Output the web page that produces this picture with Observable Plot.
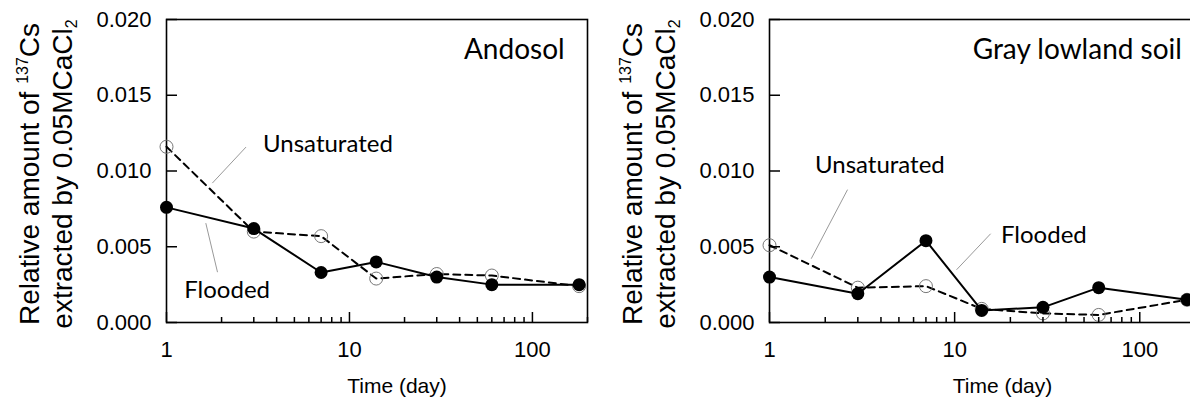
<!DOCTYPE html>
<html>
<head>
<meta charset="utf-8">
<script src="https://cdn.jsdelivr.net/npm/d3@7"></script>
<script src="https://cdn.jsdelivr.net/npm/@observablehq/plot@0.6"></script>
<style>
  html, body { margin: 0; padding: 0; background: #fff; overflow: hidden; }
  #wrap { display: flex; width: 1200px; }
  #wrap svg { flex: none; display: block; }
</style>
</head>
<body>
<div id="wrap"></div>
<script>
// ---- data ----
const days = [1, 3, 7, 14, 30, 60, 180];
const andosolFlooded = [0.0076, 0.0062, 0.0033, 0.0040, 0.0030, 0.0025, 0.0025];
const andosolUnsat   = [0.0116, 0.0060, 0.0057, 0.0029, 0.0032, 0.0031, 0.0024];
const grayFlooded    = [0.0030, 0.0019, 0.0054, 0.0008, 0.0010, 0.0023, 0.0015];
const grayUnsat      = [0.0051, 0.0023, 0.0024, 0.0009, 0.0006, 0.0005, 0.0015];
const majorX = [1, 10, 100];
const minorX = [2, 3, 4, 5, 6, 7, 8, 9, 20, 30, 40, 50, 60, 70, 80, 90, 200];
const yTicks = [0, 0.005, 0.010, 0.015, 0.020];
const xTitle = "Time (day)";
const seriesNames = ["Unsaturated", "Flooded"];
const panelTitles = ["Andosol", "Gray lowland soil"];

const sans = "'Liberation Sans', Arial, Helvetica, sans-serif";
const human = "Lato, 'Open Sans', sans-serif";

function panel(o) {
  const fl = days.map((d, i) => ({day: d, v: o.flooded[i]}));
  const un = days.map((d, i) => ({day: d, v: o.unsat[i]}));
  const svg = Plot.plot({
    width: o.width, height: 403,
    marginLeft: o.ml, marginRight: o.mr, marginTop: 19, marginBottom: 81,
    style: {fontFamily: sans, fontSize: "22px", color: "#000", background: "#fff", overflow: "visible"},
    x: {type: "log", domain: [1, 200], label: null},
    y: {domain: [0, 0.02], label: null},
    marks: [
      Plot.frame({stroke: "#000", strokeWidth: 1.6}),
      Plot.line(un, {x: "day", y: "v", stroke: "#000", strokeWidth: 2, strokeDasharray: "7,5"}),
      Plot.dot(un, {x: "day", y: "v", r: 6.5, stroke: "#777", strokeWidth: 1, fill: "none"}),
      Plot.line(fl, {x: "day", y: "v", stroke: "#000", strokeWidth: 2}),
      Plot.dot(fl, {x: "day", y: "v", r: 6.5, fill: "#000", stroke: "none"}),
      Plot.axisX({ticks: majorX, tickSize: -10, fill: "none", strokeWidth: 1.5}),
      Plot.axisX({ticks: minorX, tickSize: -5, fill: "none", strokeWidth: 1.5}),
      Plot.axisX({ticks: majorX, tickSize: 0, tickPadding: 19, tickFormat: d => String(d)}),
      Plot.axisY({ticks: yTicks, tickSize: -11, fill: "none", strokeWidth: 1.5}),
      Plot.axisY({ticks: yTicks, tickSize: 0, tickPadding: 15, tickFormat: d => d.toFixed(3)}),
      Plot.text([o.title], {x: o.titleAt[0], y: o.titleAt[1], textAnchor: "end", lineAnchor: "bottom",
        fontFamily: human, fontSize: 28, fill: "#000", ariaLabel: "panel-title"}),
      Plot.link(o.leaders, {x1: "x1", y1: "y1", x2: "x2", y2: "y2", stroke: "#999", strokeWidth: 1}),
      Plot.text(o.notes, {x: "x", y: "y", text: "t", textAnchor: "start", lineAnchor: "bottom",
        fontFamily: human, fontSize: 24, fill: "#000"}),
      Plot.text([xTitle], {frameAnchor: "bottom", dy: 70, dx: 20, lineAnchor: "bottom", fontSize: 21, fill: "#000"})
    ]
  });
  d3.select(svg).selectAll('g[aria-label="panel-title"] text')
    .attr("letter-spacing", "1.5px");
  // y-axis title (two lines, with superscript / subscript)
  const g = d3.select(svg).append("g")
    .attr("font-family", sans).attr("font-size", 28).attr("fill", "#000")
    .attr("text-anchor", "middle");
  const t1 = g.append("text").attr("transform", `translate(${o.ml - 127},174) rotate(-90)`);
  t1.append("tspan").text("Relative amount of ");
  t1.append("tspan").attr("font-size", 16).attr("dy", "-11").text("137");
  t1.append("tspan").attr("dy", "11").text("Cs");
  const t2 = g.append("text").attr("transform", `translate(${o.ml - 94},174) rotate(-90)`);
  t2.append("tspan").text("extracted by 0.05MCaCl");
  t2.append("tspan").attr("font-size", 16).attr("dy", "5").text("2");
  return svg;
}

const wrap = document.getElementById("wrap");
wrap.append(panel({
  width: 595, ml: 166, mr: 8,
  flooded: andosolFlooded, unsat: andosolUnsat,
  title: panelTitles[0], titleAt: [150, 0.01742],
  notes: [{x: 3.37, y: 0.01123, t: seriesNames[0]}, {x: 1.25, y: 0.00159, t: seriesNames[1]}],
  leaders: [{x1: 2.72, y1: 0.01158, x2: 1.78, y2: 0.0092}, {x1: 1.64, y1: 0.00656, x2: 1.90, y2: 0.00332}]
}));
wrap.append(panel({
  width: 600, ml: 174, mr: 0,
  flooded: grayFlooded, unsat: grayUnsat,
  title: panelTitles[1], titleAt: [169, 0.01737],
  notes: [{x: 1.76, y: 0.00984, t: seriesNames[0]}, {x: 17.8, y: 0.00522, t: seriesNames[1]}],
  leaders: [{x1: 2.64, y1: 0.00877, x2: 1.68, y2: 0.00421}, {x1: 15.65, y1: 0.00586, x2: 10.24, y2: 0.00348}]
}));
</script>
</body>
</html>
